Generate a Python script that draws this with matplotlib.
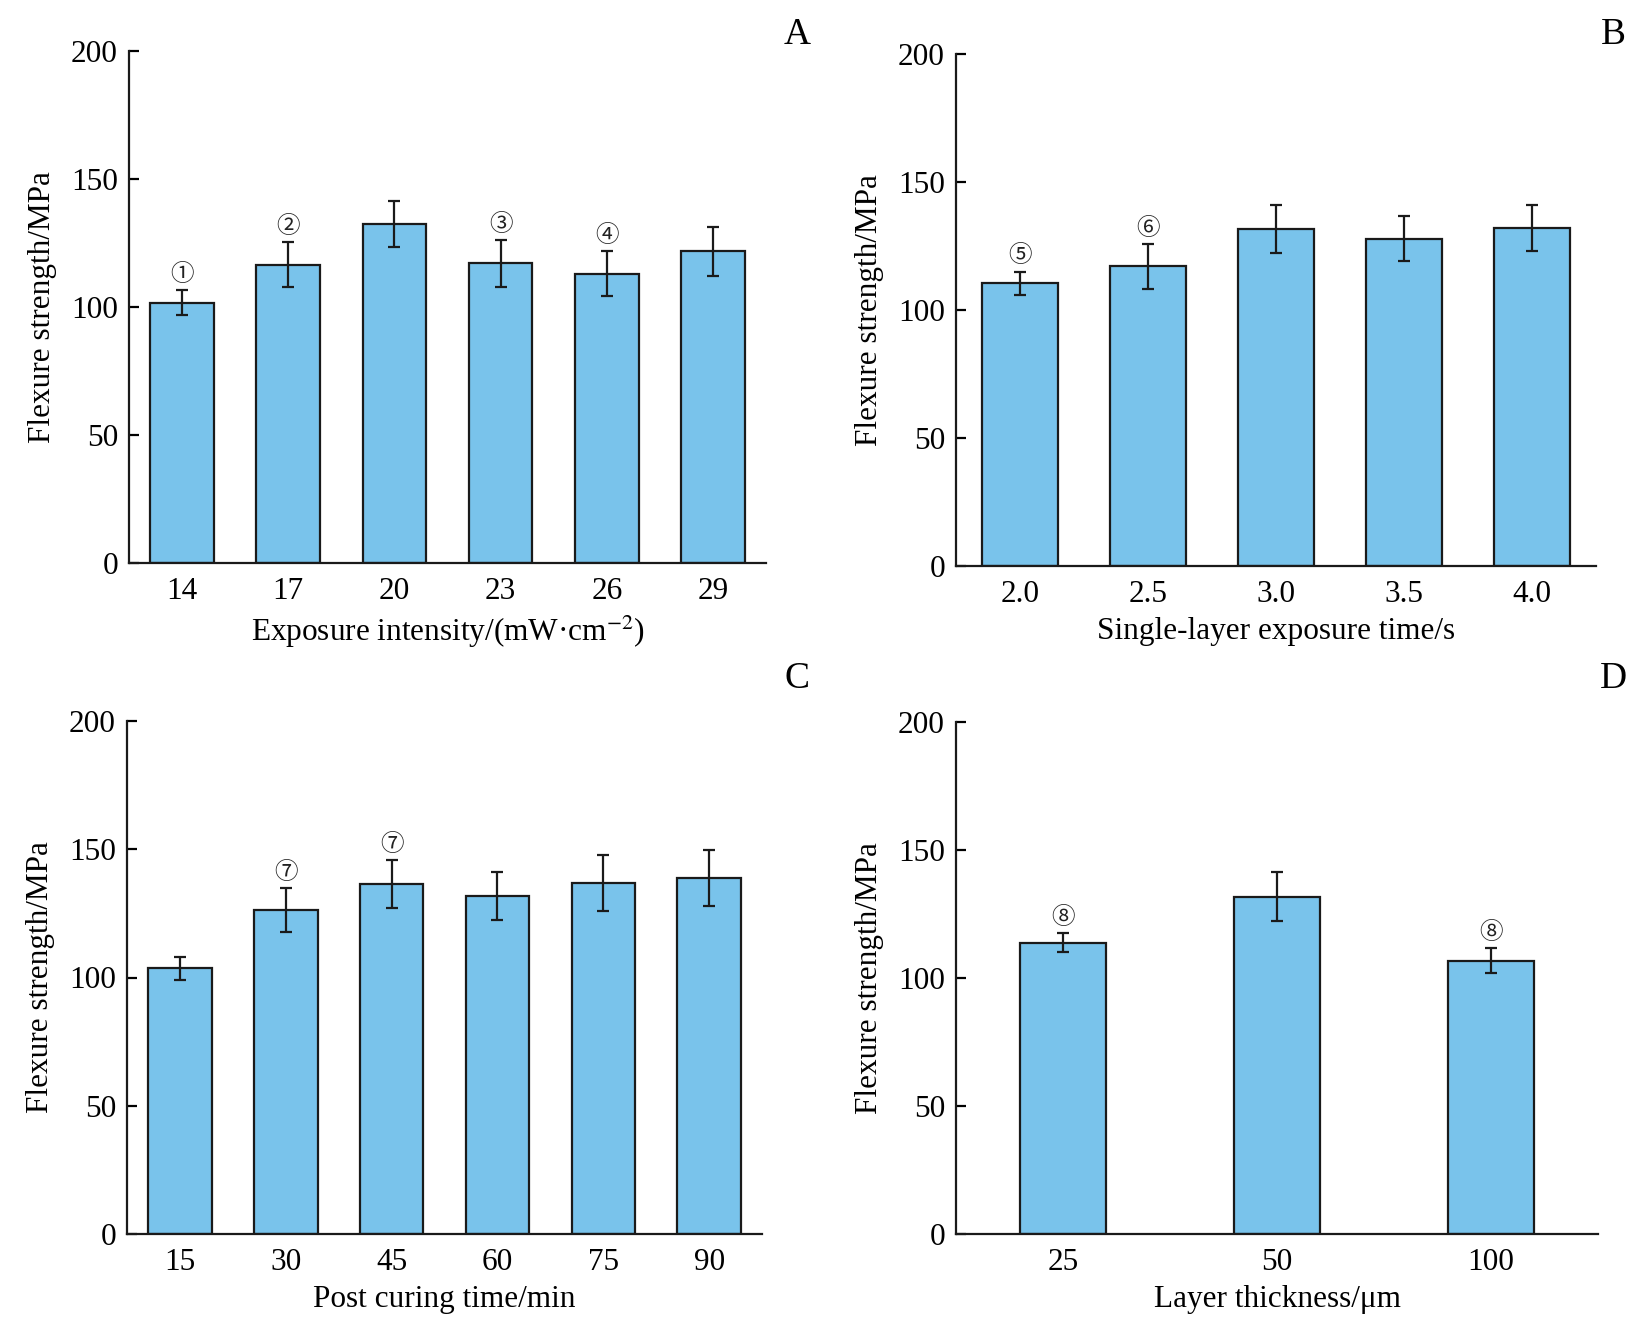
import numpy as np
import matplotlib
matplotlib.use("Agg")
import matplotlib.pyplot as plt

plt.rcParams["font.family"] = ["Liberation Serif", "DejaVu Sans"]
plt.rcParams["mathtext.fontset"] = "stix"

# panel A: exposure intensity
a_labels = ["14", "17", "20", "23", "26", "29"]
a_mean = [101.7, 116.6, 132.3, 117.0, 113.0, 121.8]
a_err = [4.8, 8.8, 9.0, 9.0, 8.8, 9.5]
a_marks = ["①", "②", "", "③", "④", ""]

# panel B: single-layer exposure time
b_labels = ["2.0", "2.5", "3.0", "3.5", "4.0"]
b_mean = [110.5, 117.0, 131.6, 127.8, 132.2]
b_err = [4.5, 8.8, 9.5, 8.8, 9.0]
b_marks = ["⑤", "⑥", "", "", ""]

# panel C: post curing time
c_labels = ["15", "30", "45", "60", "75", "90"]
c_mean = [103.6, 126.3, 136.4, 131.8, 136.8, 138.8]
c_err = [4.5, 8.6, 9.3, 9.5, 11.0, 11.0]
c_marks = ["", "⑦", "⑦", "", "", ""]

# panel D: layer thickness
d_labels = ["25", "50", "100"]
d_mean = [113.8, 131.8, 106.8]
d_err = [3.7, 9.5, 4.8]
d_marks = ["⑧", "", "⑧"]

W, H = 1642, 1323
fig = plt.figure(figsize=(W / 100, H / 100), dpi=100)


def add_axes(left, right, top, bottom):
    return fig.add_axes([left / W, 1 - bottom / H, (right - left) / W, (bottom - top) / H])


def panel(ax, labels, mean, err, marks, xlabel, width=0.6):
    x = np.arange(len(labels))
    ax.bar(x, mean, width=width, color="#79C3EB", edgecolor="#1a1a1a", linewidth=1.6, zorder=2)
    ax.errorbar(x, mean, yerr=err, fmt="none", ecolor="#1a1a1a", elinewidth=1.6,
                capsize=4, capthick=1.6, zorder=3)
    for xi, m, e, t in zip(x, mean, err, marks):
        if t:
            ax.annotate(t, (xi, m + e), xytext=(0, 3), textcoords="offset points",
                        ha="center", va="bottom", fontsize=17,
                        family=["Noto Sans CJK JP", "DejaVu Sans"], color="#222222")
    ax.set_xlim(-0.5, len(labels) - 0.5)
    ax.set_ylim(0, 200)
    ax.set_yticks([0, 50, 100, 150, 200])
    ax.set_xticks(x)
    ax.set_xticklabels(labels)
    ax.spines["top"].set_visible(False)
    ax.spines["right"].set_visible(False)
    for s in ("left", "bottom"):
        ax.spines[s].set_linewidth(1.6)
        ax.spines[s].set_color("#1a1a1a")
    ax.tick_params(axis="y", direction="in", length=7, width=1.6, labelsize=22.5, pad=8)
    ax.tick_params(axis="x", length=0, labelsize=22.5, pad=10)
    ax.set_ylabel("Flexure strength/MPa", fontsize=22.5, labelpad=10)
    ax.set_xlabel(xlabel, fontsize=22.5, labelpad=6)


axA = add_axes(129, 766, 51, 563)
axB = add_axes(956, 1596, 54, 566)
axC = add_axes(127, 762, 721, 1234)
axD = add_axes(956, 1598, 722, 1234)

panel(axA, a_labels, a_mean, a_err, a_marks, "Exposure intensity/(mW·cm$^{-2}$)")
panel(axB, b_labels, b_mean, b_err, b_marks, "Single-layer exposure time/s")
panel(axC, c_labels, c_mean, c_err, c_marks, "Post curing time/min")
panel(axD, d_labels, d_mean, d_err, d_marks, "Layer thickness/μm", width=0.4)

# panel letters
for letter, px, py in [("A", 797, 44), ("B", 1613, 44), ("C", 797, 688), ("D", 1613, 688)]:
    fig.text(px / W, 1 - py / H, letter, fontsize=27, ha="center", va="baseline")

fig.savefig("out.png", dpi=100)
